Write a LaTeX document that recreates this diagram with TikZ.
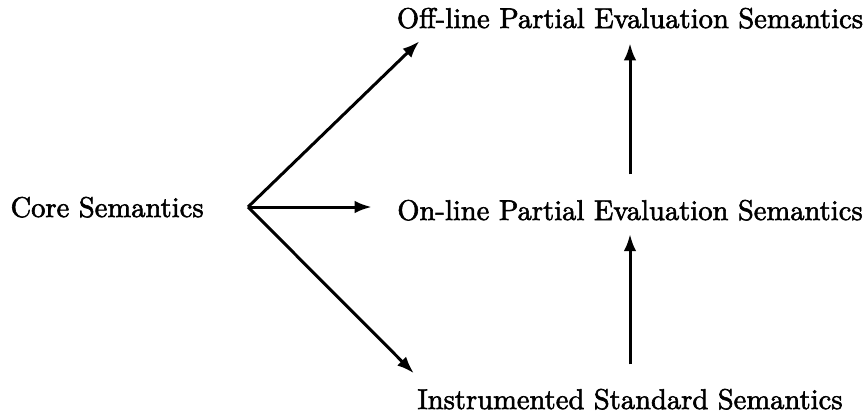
\documentclass[tikz,border=0pt]{standalone}
\usepackage{fontspec}
\newfontfamily\semfont{lmroman10-regular.otf}[FakeBold=2]
\usepackage{tikz}
\usetikzlibrary{calc,arrows.meta}

\begin{document}
\begin{tikzpicture}[x=0.35pt,y=-0.35pt,sem/.style={inner sep=0pt,anchor=base,font=\semfont},
  >={Latex[length=6pt,width=4.4pt]}]
  \useasboundingbox (0,0) rectangle (868,417);
  \node[sem,anchor=base west] (core) at (10,217) {Core Semantics};
  \node[sem] (off) at (630,28) {Off-line Partial Evaluation Semantics};
  \node[sem] (on) at (630,220) {On-line Partial Evaluation Semantics};
  \node[sem] (inst) at (630,409) {Instrumented Standard Semantics};
  \coordinate (fork) at (248,207);

  \draw[->,line width=1.05pt] (fork) -- ($(off.south west)+(23,12)$);
  \draw[->,line width=1.05pt] (fork) -- ($(fork -| on.west)+(-25,0)$);
  \draw[->,line width=1.05pt] (fork) -- ($(inst.north west)+(-3,-15)$);
  \draw[->,line width=1.05pt,shorten <=8.7pt,shorten >=4.9pt] (on.north) -- (off.south);
  \draw[->,line width=1.05pt,shorten <=8.4pt,shorten >=4.5pt] (inst.north) -- (on.south);
 \end{tikzpicture}
\end{document}
